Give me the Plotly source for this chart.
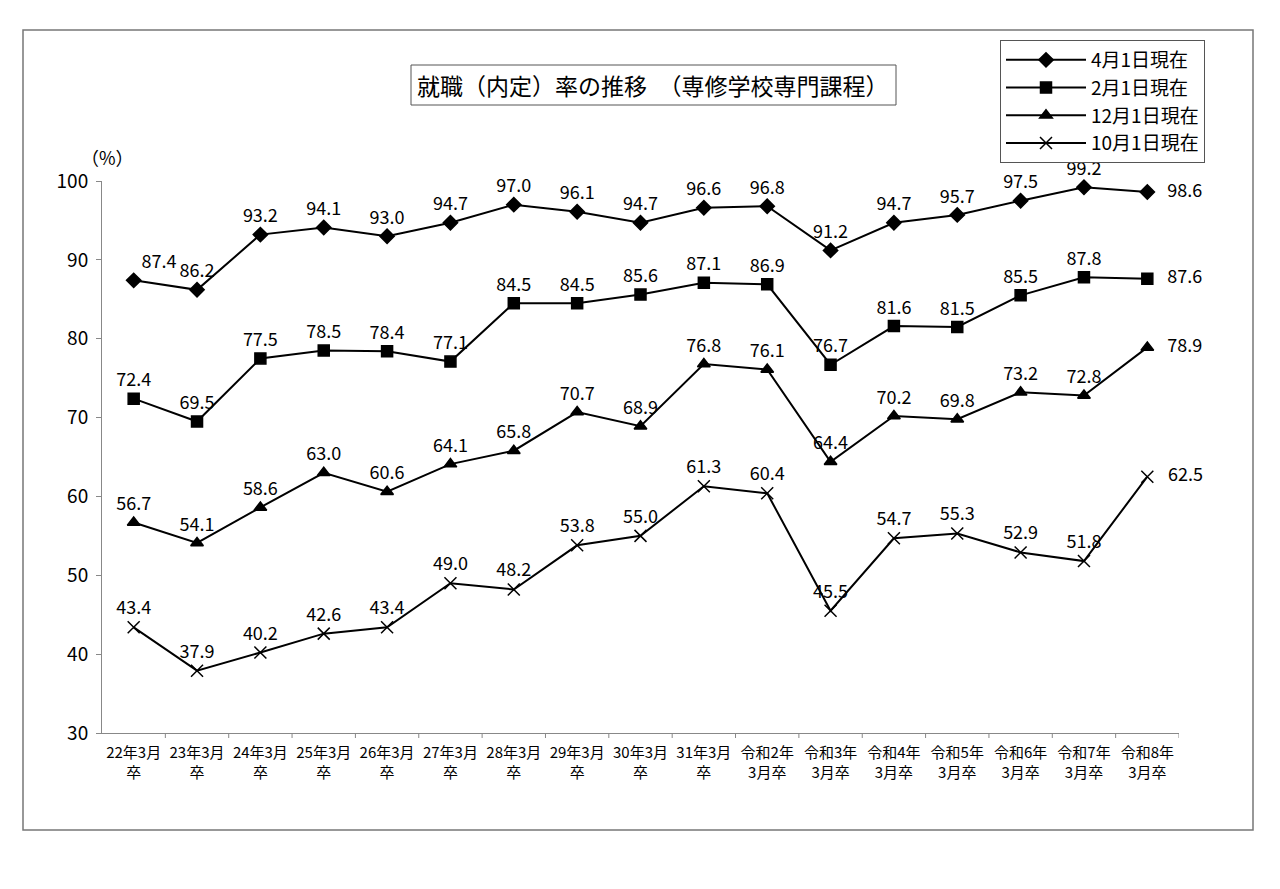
import plotly.graph_objects as go

categories = ['22年3月<br>卒', '23年3月<br>卒', '24年3月<br>卒', '25年3月<br>卒', '26年3月<br>卒',
              '27年3月<br>卒', '28年3月<br>卒', '29年3月<br>卒', '30年3月<br>卒', '31年3月<br>卒',
              '令和2年<br>3月卒', '令和3年<br>3月卒', '令和4年<br>3月卒', '令和5年<br>3月卒',
              '令和6年<br>3月卒', '令和7年<br>3月卒', '令和8年<br>3月卒']

apr1 = [87.4, 86.2, 93.2, 94.1, 93.0, 94.7, 97.0, 96.1, 94.7, 96.6, 96.8, 91.2, 94.7, 95.7, 97.5, 99.2, 98.6]
feb1 = [72.4, 69.5, 77.5, 78.5, 78.4, 77.1, 84.5, 84.5, 85.6, 87.1, 86.9, 76.7, 81.6, 81.5, 85.5, 87.8, 87.6]
dec1 = [56.7, 54.1, 58.6, 63.0, 60.6, 64.1, 65.8, 70.7, 68.9, 76.8, 76.1, 64.4, 70.2, 69.8, 73.2, 72.8, 78.9]
oct1 = [43.4, 37.9, 40.2, 42.6, 43.4, 49.0, 48.2, 53.8, 55.0, 61.3, 60.4, 45.5, 54.7, 55.3, 52.9, 51.8, 62.5]

series_names = ['4月1日現在', '2月1日現在', '12月1日現在', '10月1日現在']
y_ticks = [30, 40, 50, 60, 70, 80, 90, 100]

FONT = 'Noto Sans CJK JP'
W, H = 1280, 889
OFF = 8  # page body margin
# plot area in page pixels
L, R, T, B = 102, 1179, 181, 733


def px_x(x):
    return (x - L) / (R - L)


def px_y(y):
    return (B - y) / (B - T)


fig = go.Figure()

symbols = ['diamond', 'square', 'triangle-up', 'x-thin']
for name, vals, sym in zip(series_names, [apr1, feb1, dec1, oct1], symbols):
    labels = [f'{v:.1f}' for v in vals]
    labels[-1] = '   ' + labels[-1]   # last label sits to the right with a gap
    pos = ['top center'] * len(vals)
    pos[-1] = 'middle right'
    if name == '4月1日現在':
        pos[0] = 'top right'
    fig.add_trace(go.Scatter(
        x=categories, y=vals, name=name,
        mode='lines+markers+text',
        line=dict(color='black', width=2),
        marker=dict(symbol=sym, size=11 if sym != 'x-thin' else 12, color='black',
                    line=dict(color='black', width=1.5)),
        text=labels,
        textposition=pos,
        textfont=dict(family=FONT, size=18, color='black'),
        cliponaxis=False,
    ))

fig.update_layout(
    width=W, height=H,
    margin=dict(l=L - OFF, r=W + OFF - R, t=T - OFF, b=H + OFF - B),
    plot_bgcolor='white', paper_bgcolor='white',
    font=dict(family=FONT, color='black'),
    showlegend=True,
    legend=dict(x=px_x(1000), y=px_y(40), xanchor='left', yanchor='top',
                bordercolor='#555', borderwidth=1, bgcolor='white',
                font=dict(family=FONT, size=19), tracegroupgap=0,
                itemwidth=80, traceorder='normal'),
)

fig.update_xaxes(range=[-0.5, len(categories) - 0.5], showline=True, linecolor='#888',
                 linewidth=1, showgrid=False, ticks='', tickfont=dict(family=FONT, size=15),
                 ticklabelstandoff=6)
fig.update_yaxes(range=[30, 100], tickvals=y_ticks, showline=True, linecolor='#888',
                 linewidth=1, showgrid=False, ticks='outside', ticklen=5, tickcolor='#888',
                 tickfont=dict(family=FONT, size=19), zeroline=False, ticklabelstandoff=4)

# category separator ticks on x axis
n = len(categories)
for i in range(1, n + 1):
    fig.add_shape(type='line', xref='x', yref='paper', x0=i - 0.5, x1=i - 0.5,
                  y0=0, y1=-5 / (B - T), line=dict(color='#888', width=1))

# outer frame
fig.add_shape(type='rect', xref='paper', yref='paper',
              x0=px_x(23), x1=px_x(1253), y0=px_y(830), y1=px_y(30),
              line=dict(color='#777', width=1.5), layer='below')

# title box
fig.add_shape(type='rect', xref='paper', yref='paper',
              x0=px_x(411), x1=px_x(896), y0=px_y(105), y1=px_y(65),
              line=dict(color='#555', width=1), fillcolor='white')
fig.add_annotation(xref='paper', yref='paper', x=px_x(653), y=px_y(85),
                   xanchor='center', yanchor='middle',
                   text='就職（内定）率の推移　（専修学校専門課程）', showarrow=False,
                   font=dict(family=FONT, size=23, color='black'))

fig.add_annotation(xref='paper', yref='paper', x=px_x(107), y=px_y(157),
                   xanchor='center', yanchor='middle',
                   text='（%）', showarrow=False,
                   font=dict(family=FONT, size=18, color='black'))

fig.write_html('out.html')
